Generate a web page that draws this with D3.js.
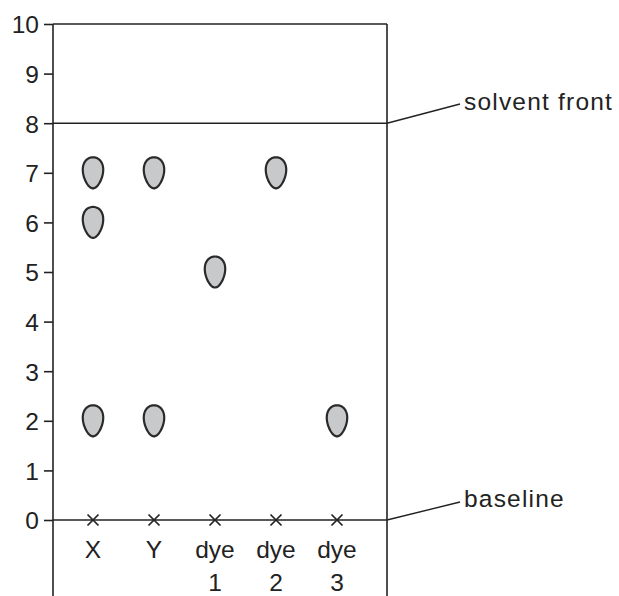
<!DOCTYPE html>
<html><head><meta charset="utf-8">
<script src="https://cdn.jsdelivr.net/npm/d3@7"></script>
<style>body{margin:0;background:#fff}svg{display:block}</style>
</head><body>
<svg id="c" width="619" height="596"></svg>
<script>
const lanes = ["X","Y","dye 1","dye 2","dye 3"];
const spotsX = [7,6,2];
const spotsY = [7,2];
const spotsDye1 = [5];
const spotsDye2 = [7];
const spotsDye3 = [2];
const yTicks = [0,1,2,3,4,5,6,7,8,9,10];
const solventFront = 8;
const labelSolvent = "solvent front";
const labelBaseline = "baseline";

const laneSpots = [spotsX, spotsY, spotsDye1, spotsDye2, spotsDye3];
const spots = [];
lanes.forEach((l,i)=>laneSpots[i].forEach(v=>spots.push({lane:l, rf:v})));

const svg = d3.select("#c");
const ink = "#222";
const font = "'Liberation Sans', Arial, sans-serif";
const fs = "24.5px";
const y = d3.scaleLinear().domain([0,10]).range([520,24]);
const x = d3.scalePoint().domain(lanes).range([93,337]);
const left = 53, right = 387, bottom = 596;

// frame
const frame = [[left,y(10),left,bottom],[right,y(10),right,bottom],[left,y(10),right,y(10)],
  [left,y(solventFront),right,y(solventFront)],[left,y(0),right,y(0)]];
svg.append("g").selectAll("line").data(frame).join("line")
  .attr("x1",d=>d[0]).attr("y1",d=>d[1]).attr("x2",d=>d[2]).attr("y2",d=>d[3])
  .attr("stroke",ink).attr("stroke-width",1.6);

// y axis
const ax = svg.append("g").attr("transform",`translate(${left},0)`)
  .call(d3.axisLeft(y).tickValues(yTicks).tickSize(9).tickPadding(5).tickFormat(d3.format("d")));
ax.select(".domain").remove();
ax.selectAll(".tick line").attr("stroke",ink).attr("stroke-width",1.6);
ax.selectAll(".tick text").attr("fill",ink).attr("dy","0.36em").style("font-family",font).style("font-size",fs);

// baseline crosses
const cs = 5.5;
svg.append("g").selectAll("path").data(lanes).join("path")
  .attr("d",d=>{const cx=x(d), cy=y(0); return `M${cx-cs},${cy-cs}L${cx+cs},${cy+cs}M${cx+cs},${cy-cs}L${cx-cs},${cy+cs}`;})
  .attr("stroke",ink).attr("stroke-width",1.7).attr("fill","none");

// spots (egg shape)
const rx = 10, ry = 15.5, k = 0.22;
const eggPts = d3.range(0, 2*Math.PI, Math.PI/24).map(t=>[rx*Math.cos(t)*(1-k*Math.sin(t)), ry*Math.sin(t)]);
const egg = d3.line().curve(d3.curveCardinalClosed)(eggPts);
svg.append("g").selectAll("path").data(spots).join("path")
  .attr("transform",d=>`translate(${x(d.lane)},${y(d.rf)})`)
  .attr("d",egg).attr("fill","#c8c9cb").attr("stroke","#2a2a2a").attr("stroke-width",2.2);

// lane labels
const lab = svg.append("g").selectAll("text").data(lanes).join("text")
  .attr("x",d=>x(d)).attr("y",558).attr("text-anchor","middle")
  .attr("fill",ink).style("font-family",font).style("font-size",fs);
lab.each(function(d){
  const parts = d.split(" ");
  const t = d3.select(this);
  parts.forEach((p,i)=>t.append("tspan").attr("x",x(d)).attr("dy",i===0?0:33).text(p));
});

// annotations
function note(yv, ty, tb, label){
  svg.append("line").attr("x1",right).attr("y1",y(yv)).attr("x2",460).attr("y2",ty)
    .attr("stroke",ink).attr("stroke-width",1.4);
  svg.append("text").attr("x",464).attr("y",tb)
    .attr("fill",ink).style("font-family",font).style("font-size",fs)
    .style("letter-spacing","1.2px").text(label);
}
note(solventFront, 104, 110, labelSolvent);
note(0, 502, 507, labelBaseline);
</script>
</body></html>
